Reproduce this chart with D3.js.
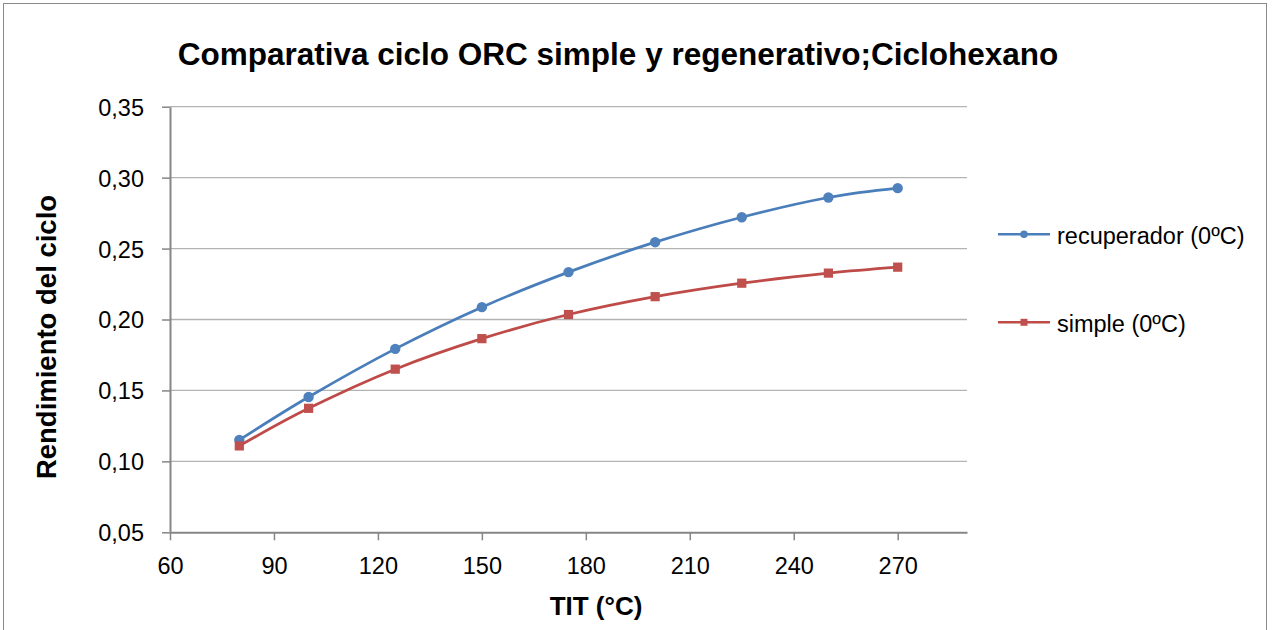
<!DOCTYPE html>
<html>
<head>
<meta charset="utf-8">
<script src="https://d3js.org/d3.v7.min.js"></script>
<style>
body { margin:0; background:#ffffff; }
svg { display:block; font-family:"Liberation Sans", Arial, sans-serif; }
.tick text { font-size:23.5px; fill:#000; }
.grid line { stroke:#b3b3b3; stroke-width:1.3; }
.title { font-size:31.5px; font-weight:bold; }
.label { font-size:26px; font-weight:bold; }
.ylabel { font-size:27.5px; }
.legend text { font-size:23.5px; }
</style>
</head>
<body>
<svg></svg>
<script>

//data
var temps = [80,100,125,150,175,200,225,250,270];
var recuperador = [0.1151,0.1454,0.1793,0.2087,0.2334,0.2545,0.2721,0.2860,0.2926];
var simple = [0.1109,0.1374,0.1650,0.1865,0.2035,0.2161,0.2256,0.2327,0.2369];
var seriesNames = ["recuperador (0ºC)","simple (0ºC)"];
var xTicks = [60,90,120,150,180,210,240,270];
var yTicks = [0.05,0.10,0.15,0.20,0.25,0.30,0.35];

var screen = {width:1272,height:630};
var plot = {left:170,right:967,top:106.7,bottom:532.3};

var svg = d3.select("svg")
    .attr("width",screen.width)
    .attr("height",screen.height);

//chart frame
svg.append("rect")
    .attr("x",3.5)
    .attr("y",3.5)
    .attr("width",1263)
    .attr("height",screen.height+10)
    .attr("fill","none")
    .attr("stroke","#898989")
    .attr("stroke-width",1);

var xScale = d3.scaleLinear()
    .domain([60,290])
    .range([plot.left,plot.right]);

var yScale = d3.scaleLinear()
    .domain([0.05,0.35])
    .range([plot.bottom,plot.top]);

var fmt = function(d) { return d3.format(".2f")(d).replace(".",","); };

//horizontal gridlines
svg.append("g")
    .classed("grid",true)
    .selectAll("line")
    .data(yTicks.slice(1))
    .enter()
    .append("line")
    .attr("x1",plot.left)
    .attr("x2",plot.right)
    .attr("y1",function(d){ return yScale(d); })
    .attr("y2",function(d){ return yScale(d); });

var xAxis = d3.axisBottom(xScale)
    .tickValues(xTicks)
    .tickSize(8)
    .tickSizeOuter(0)
    .tickPadding(17);

var yAxis = d3.axisLeft(yScale)
    .tickValues(yTicks)
    .tickFormat(fmt)
    .tickSize(8)
    .tickSizeOuter(0)
    .tickPadding(18);

var gx = svg.append("g")
    .attr("transform","translate(0,"+plot.bottom+")")
    .call(xAxis);

var gy = svg.append("g")
    .attr("transform","translate("+plot.left+",0)")
    .call(yAxis);

[gx,gy].forEach(function(g)
{
    g.select(".domain").attr("stroke","#868686").attr("stroke-width",2);
    g.selectAll(".tick line").attr("stroke","#868686").attr("stroke-width",1.5);
    g.attr("font-family",null).attr("font-size",null);
});
gy.selectAll(".tick text").attr("dy","0.36em");

var series = [
    {name:seriesNames[0],values:recuperador,line:"#4a7ebb",fill:"#4f81bd",shape:d3.symbolCircle},
    {name:seriesNames[1],values:simple,line:"#be4b48",fill:"#c0504d",shape:d3.symbolSquare}
];

var lineGenerator = d3.line()
    .x(function(v,i){ return xScale(temps[i]); })
    .y(function(v){ return yScale(v); })
    .curve(d3.curveCatmullRom.alpha(0));

var lines = svg.append("g")
    .selectAll("g")
    .data(series)
    .enter()
    .append("g");

lines.append("path")
    .attr("d",function(s){ return lineGenerator(s.values); })
    .attr("fill","none")
    .attr("stroke",function(s){ return s.line; })
    .attr("stroke-width",2.75);

lines.each(function(s)
{
    d3.select(this)
        .selectAll("path.mark")
        .data(s.values)
        .enter()
        .append("path")
        .classed("mark",true)
        .attr("d",d3.symbol().type(s.shape).size(s.shape==d3.symbolCircle ? 85 : 85))
        .attr("transform",function(v,i){ return "translate("+xScale(temps[i])+","+yScale(v)+")"; })
        .attr("fill",s.fill);
});

//legend
var legend = svg.append("g")
    .classed("legend",true)
    .selectAll("g")
    .data(series)
    .enter()
    .append("g")
    .attr("transform",function(s,i){ return "translate(998,"+(234.3+i*88)+")"; });

legend.append("line")
    .attr("x1",0)
    .attr("x2",52)
    .attr("stroke",function(s){ return s.line; })
    .attr("stroke-width",2.5);

legend.append("path")
    .attr("d",function(s){ return d3.symbol().type(s.shape).size(s.shape==d3.symbolCircle ? 45 : 49)(); })
    .attr("transform","translate(26,0)")
    .attr("fill",function(s){ return s.fill; });

legend.append("text")
    .attr("x",59)
    .attr("y",9.5)
    .text(function(s){ return s.name; });

//titles
svg.append("text")
    .classed("title",true)
    .attr("text-anchor","middle")
    .attr("x",618)
    .attr("y",65)
    .text("Comparativa ciclo ORC simple y regenerativo;Ciclohexano");

svg.append("text")
    .classed("label",true)
    .attr("text-anchor","middle")
    .attr("x",596)
    .attr("y",615)
    .text("TIT (°C)");

svg.append("g")
    .attr("transform","translate(56,337)")
    .append("text")
    .classed("label",true)
    .classed("ylabel",true)
    .attr("text-anchor","middle")
    .attr("transform","rotate(-90)")
    .text("Rendimiento del ciclo");

</script>
</body>
</html>
